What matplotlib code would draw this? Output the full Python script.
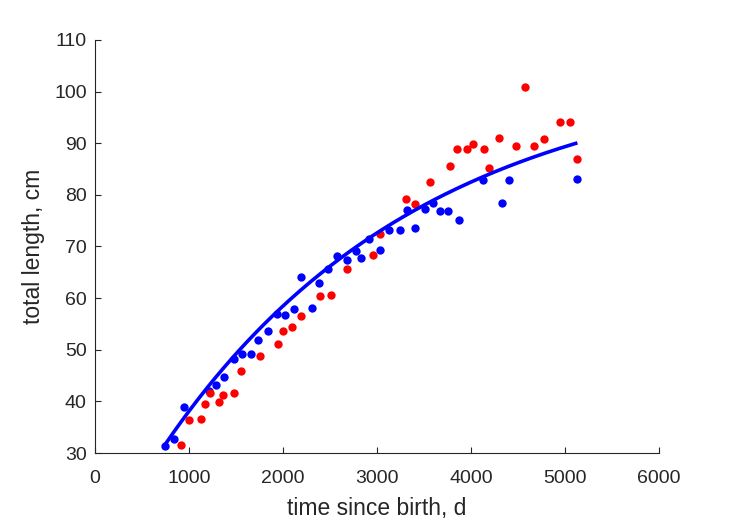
import numpy as np
import matplotlib
matplotlib.use("Agg")
import matplotlib.pyplot as plt

# blue group: days since birth, total length (cm)
blue_t = [744, 841, 947, 1210, 1284, 1376, 1479, 1564, 1664, 1738, 1837, 1933,
          2025, 2114, 2305, 2192, 2383, 2479, 2579, 2678, 2773, 2834, 2912, 3036,
          3124, 3249, 3401, 3323, 3515, 3596, 3674, 3755, 3869, 4132, 4327, 4404,
          5132]
blue_len = [31.4, 32.7, 38.9, 42.1, 43.2, 44.8, 48.3, 49.2, 49.2, 51.9, 53.6, 56.9,
            56.7, 57.8, 58.1, 64.0, 63.0, 65.6, 68.1, 67.4, 69.1, 67.8, 71.5, 69.3,
            73.2, 73.2, 73.6, 77.1, 77.3, 78.5, 76.9, 76.9, 75.2, 82.8, 78.5, 82.8,
            83.1]

# red group
red_t = [919, 997, 1128, 1174, 1223, 1316, 1362, 1479, 1550, 1760, 1947, 2000,
         2096, 2195, 2391, 2507, 2678, 2962, 3032, 3313, 3404, 3568, 3773, 3848,
         3954, 4026, 4135, 4196, 4298, 4479, 4574, 4670, 4777, 4944, 5050, 5132]
red_len = [31.5, 36.3, 36.6, 39.4, 41.6, 39.9, 41.3, 41.6, 45.8, 48.7, 51.2, 53.6,
           54.5, 56.5, 60.5, 60.7, 65.6, 68.4, 72.5, 79.2, 78.2, 82.5, 85.5, 88.9,
           88.9, 89.9, 88.9, 85.3, 91.0, 89.5, 100.8, 89.4, 90.8, 94.2, 94.1, 86.9]

# von Bertalanffy growth curve, parameters
L_inf = 105.0     # cm
k_growth = 3.63e-4  # 1/d
t0 = -242.0       # d

t_all = np.array(blue_t + red_t, dtype=float)
fit_t = np.linspace(t_all.min(), t_all.max(), 200)
fit_len = L_inf * (1 - np.exp(-k_growth * (fit_t - t0)))

plt.rcParams['font.family'] = ['Liberation Sans', 'DejaVu Sans']
axcol = '#262626'

fig = plt.figure(figsize=(7.29, 5.21), dpi=100)
ax = fig.add_axes([95 / 729, 68 / 521, 564 / 729, 413 / 521])

ax.plot(blue_t, blue_len, 'o', color='#0000ff', markersize=6, markeredgewidth=0)
ax.plot(red_t, red_len, 'o', color='#ff0000', markersize=6, markeredgewidth=0)
ax.plot(fit_t, fit_len, '-', color='#0000ff', linewidth=2.6, solid_capstyle='butt')

ax.set_xlim(0, 6000)
ax.set_ylim(30, 110)
ax.set_xticks(np.arange(0, 6001, 1000))
ax.set_yticks(np.arange(30, 111, 10))
ax.set_xlabel('time since birth, d', fontsize=16.5, color=axcol, labelpad=7.5)
ax.set_ylabel('total length, cm', fontsize=16.5, color=axcol, labelpad=6.5)

for s in ['top', 'right']:
    ax.spines[s].set_visible(False)
for s in ['left', 'bottom']:
    ax.spines[s].set_color(axcol)
    ax.spines[s].set_linewidth(0.8)
ax.tick_params(direction='in', length=4, width=0.8, colors=axcol, labelsize=14)
ax.tick_params(axis='x', pad=12)
ax.tick_params(axis='y', pad=6)

fig.savefig('out.png', dpi=100)
